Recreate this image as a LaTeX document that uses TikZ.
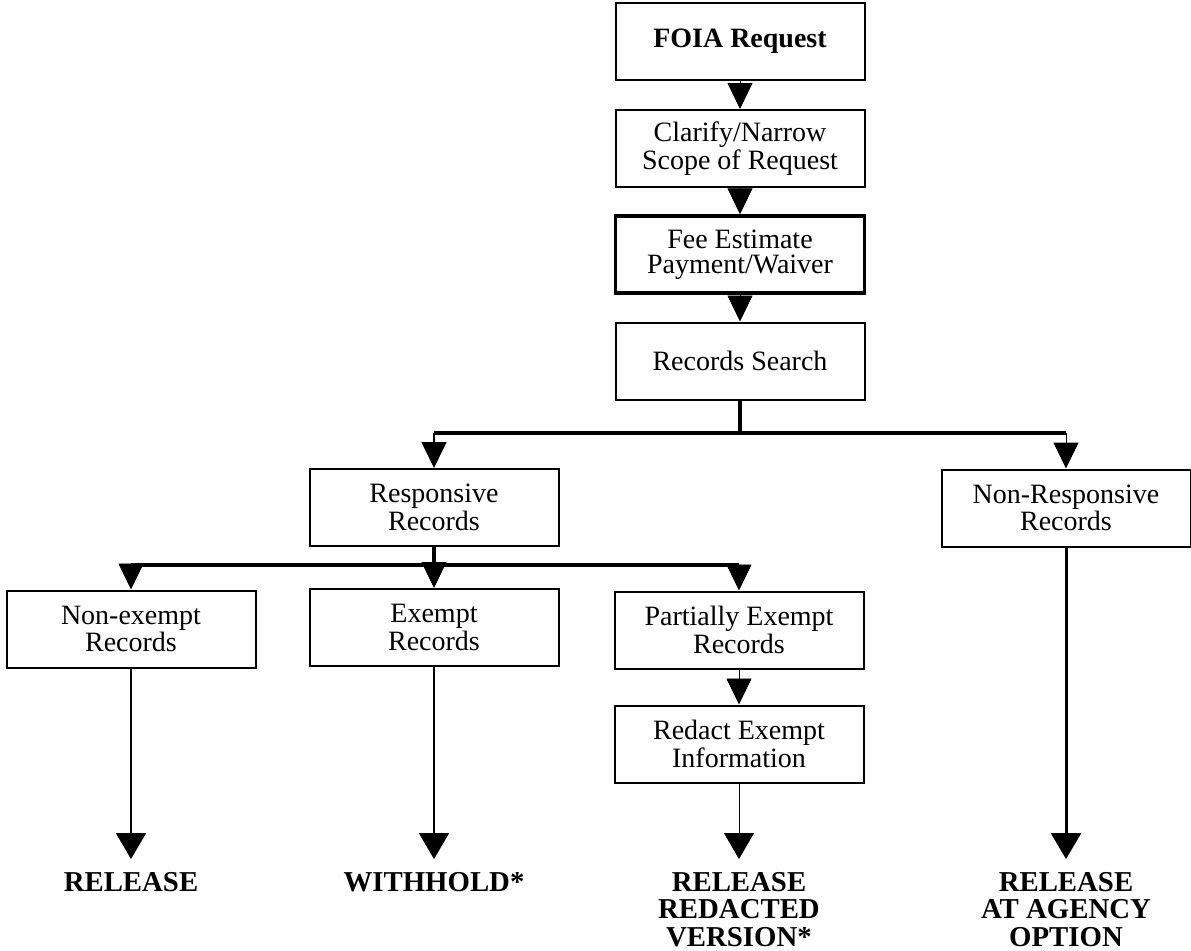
\documentclass[tikz,border=0pt]{standalone}
\usepackage{fontspec}
\setmainfont{Liberation Serif}
\usetikzlibrary{arrows.meta}

\tikzset{
    box/.style={draw, line width=1pt, minimum width=124.5pt, minimum height=38.5pt,
        align=center, inner sep=2pt, font=\fontsize{14}{12.5}\selectfont},
    heavybox/.style={box, line width=1.75pt},
    outcome/.style={anchor=north, align=center, inner sep=6.5pt,
        font=\fontsize{14.4}{13.75}\selectfont\bfseries},
    tip/.style={-{Triangle[width=12.5pt,length=13pt]}},
    bigtip/.style={-{Triangle[width=15pt,length=13pt]}},
    bar/.style={line width=1.75pt},
}

\begin{document}
\begin{tikzpicture}[x=0.5pt,y=-0.5pt]
    \useasboundingbox (0,0) rectangle (1191,950);

    \node[box, font=\fontsize{14}{12.5}\selectfont\bfseries] (foia) at (740,41.5) {FOIA Request};
    \node[box] (clarify) at (740,148.5) {Clarify/Narrow\\Scope of Request};
    \node[heavybox] (fee) at (740,254.5) {Fee Estimate\\Payment/Waiver};
    \node[box] (search) at (740,361) {Records Search};

    \node[box] (resp) at (434,507.5) {Responsive\\Records};
    \node[box] (nonresp) at (1066,508) {Non-Responsive\\Records};

    \node[box] (nonex) at (131,629) {Non-exempt\\Records};
    \node[box] (exempt) at (434,627.5) {Exempt\\Records};
    \node[box] (partial) at (739,630) {Partially Exempt\\Records};
    \node[box] (redact) at (739,744) {Redact Exempt\\Information};

    \node[outcome] (release) at (131,859) {RELEASE};
    \node[outcome] (withhold) at (434,859) {WITHHOLD*};
    \node[outcome] (redacted) at (739,859) {RELEASE\\REDACTED\\VERSION*};
    \node[outcome] (agency) at (1066,859) {RELEASE\\AT AGENCY\\OPTION};

    \draw[tip] (foia) -- (clarify);
    \draw[tip] (clarify) -- (fee);
    \draw[tip] (fee) -- (search);

    \coordinate (split) at (740,433);
    \draw[bar] (search) -- (split);
    \draw[bar] (resp.north |- split) -- (nonresp.north |- split);
    \draw[tip, line width=0.75pt] (resp.north |- split) -- (resp);
    \draw[tip, line width=0.5pt] (nonresp.north |- split) -- (nonresp);

    \coordinate (fork) at (434,565);
    \draw[bar] (resp) -- (fork);
    \draw[bar] (nonex.north |- fork) -- (partial.north |- fork);
    \draw[tip] (nonex.north |- fork) -- (nonex);
    \draw[tip] (fork) -- (exempt);
    \draw[tip] (partial.north |- fork) -- (partial);
    \draw[tip] (partial) -- (redact);

    \draw[bigtip, line width=1pt] (nonex) -- (release);
    \draw[bigtip, line width=1pt] (exempt) -- (withhold);
    \draw[bigtip, line width=0.5pt] (redact) -- (redacted);
    \draw[bigtip, line width=1.5pt] (nonresp) -- (agency);
\end{tikzpicture}
\end{document}
